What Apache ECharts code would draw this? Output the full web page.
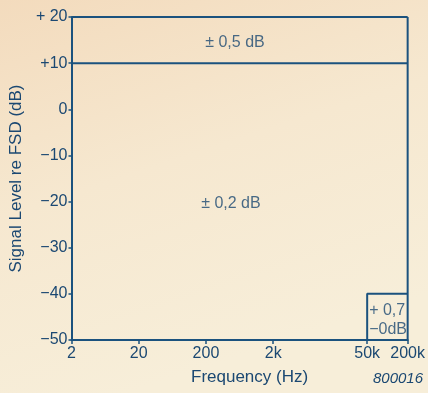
<!DOCTYPE html>
<html><head><meta charset="utf-8">
<script src="https://cdn.jsdelivr.net/npm/echarts@6/dist/echarts.min.js"></script>
<style>html,body{margin:0;padding:0;}#c{width:428px;height:393px;}</style>
</head><body><div id="c"></div>
<script>
// Frequency ticks (Hz) and their labels
const freqTicks = [2, 20, 200, 2000, 50000, 200000];
const freqLabels = ['2', '20', '200', '2k', '50k', '200k'];
// Level ticks (dB) and their labels
const levelTicks = [20, 10, 0, -10, -20, -30, -40, -50];
const levelLabels = ['+ 20', '+10', '0', '\u221210', '\u221220', '\u221230', '\u221240', '\u221250'];
// Tolerance zone boundaries
const freqRange = [2, 200000];
const levelRange = [-50, 20];
const splitLevel = 10;
const hfBoxFreq = [50000, 200000];
const hfBoxLevel = [-50, -40];
// Zone annotations: [freq, level, text]
const zoneNotes = [[540, 14.4, '\u00b1 0,5 dB'], [470, -20.4, '\u00b1 0,2 dB']];
const boxNote = [50000, -45.6, '+ 0,7\n\u22120dB'];

const ink = '#1b527e';
const txt = '#1b4872';
const font = 'Liberation Sans';
const lineStyle = {color: ink, width: 2};
function seg(data) {
  return {type: 'line', data: data, symbol: 'none', lineStyle: lineStyle, silent: true, z: 3};
}
function nearestLabel(v, ticks, labels) {
  let best = 0;
  for (let i = 0; i < ticks.length; i++) {
    if (Math.abs(Math.log(ticks[i]) - Math.log(v)) < Math.abs(Math.log(ticks[best]) - Math.log(v))) best = i;
  }
  return labels[best];
}
const chart = echarts.init(document.getElementById('c'));
chart.setOption({
  animation: false,
  backgroundColor: {type: 'linear', x: 0, y: 0, x2: 0.3, y2: 1,
    colorStops: [{offset: 0, color: '#f3dbbd'}, {offset: 0.5, color: '#f6e8d0'}, {offset: 1, color: '#f7eed9'}]},
  grid: {left: 71, right: 15, top: 17, bottom: 53},
  xAxis: {
    type: 'log', logBase: 10, min: freqRange[0], max: freqRange[1],
    axisLine: {show: true, onZero: false, lineStyle: {color: ink, width: 2}},
    axisTick: {show: true, length: 4, customValues: freqTicks, lineStyle: {color: ink, width: 1.5}},
    axisLabel: {customValues: freqTicks, color: txt, fontSize: 16, fontFamily: font, margin: 6,
      formatter: v => nearestLabel(v, freqTicks, freqLabels)},
    splitLine: {show: false}, minorTick: {show: false},
    name: 'Frequency (Hz)', nameLocation: 'middle', nameGap: 29,
    nameTextStyle: {color: txt, fontSize: 17, fontFamily: font, padding: [0, 0, 0, 20]}
  },
  yAxis: {
    type: 'value', min: levelRange[0], max: levelRange[1], interval: 10,
    axisLine: {show: true, lineStyle: {color: ink, width: 2}},
    axisTick: {show: true, length: 3, lineStyle: {color: ink, width: 1.5}},
    axisLabel: {color: txt, fontSize: 16, fontFamily: font, margin: 4,
      formatter: v => levelLabels[levelTicks.indexOf(v)]},
    splitLine: {show: false},
    name: 'Signal Level re FSD (dB)', nameLocation: 'middle', nameGap: 41,
    nameTextStyle: {color: txt, fontSize: 17, fontFamily: font}
  },
  graphic: [{type: 'text', left: 373, top: 371,
    style: {text: '800016', fill: txt, font: 'italic 15px "Liberation Sans"'}}],
  series: [
    seg([[freqRange[0], levelRange[1]], [freqRange[1], levelRange[1]]]),
    seg([[freqRange[0], splitLevel], [freqRange[1], splitLevel]]),
    seg([[freqRange[1], levelRange[1]], [freqRange[1], levelRange[0]]]),
    seg([[hfBoxFreq[0], hfBoxLevel[0]], [hfBoxFreq[0], hfBoxLevel[1]], [hfBoxFreq[1], hfBoxLevel[1]]]),
    {type: 'scatter', symbolSize: 0, silent: true,
      data: zoneNotes.map(n => ({value: [n[0], n[1]], name: n[2]})),
      label: {show: true, position: 'inside', formatter: p => p.name, color: txt, fontSize: 16, fontFamily: font}},
    {type: 'scatter', symbolSize: 0, silent: true,
      data: [{value: [boxNote[0], boxNote[1]], name: boxNote[2]}],
      label: {show: true, position: 'right', distance: 2, align: 'left', formatter: p => p.name, color: txt,
        fontSize: 16, lineHeight: 19, fontFamily: font}}
  ]
});
</script></body></html>
